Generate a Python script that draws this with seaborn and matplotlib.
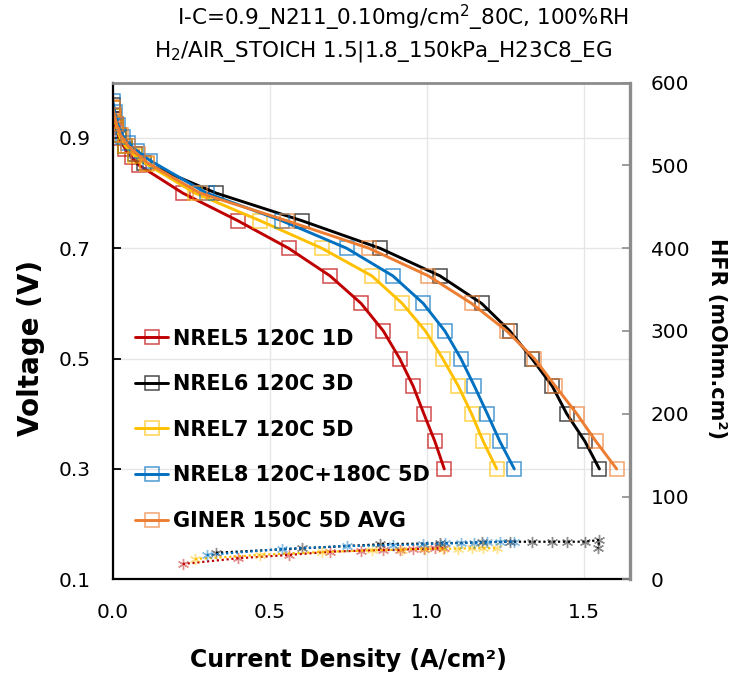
import numpy as np
import pandas as pd
import matplotlib
matplotlib.use("Agg")
import matplotlib.pyplot as plt
import seaborn as sns
from matplotlib.colors import to_rgba

sns.set_style("white")
plt.rcParams['font.family'] = ['DejaVu Sans']
plt.rcParams['text.color'] = 'black'
plt.rcParams['axes.labelcolor'] = 'black'
plt.rcParams['xtick.color'] = 'black'
plt.rcParams['ytick.color'] = 'black'
plt.rcParams['mathtext.default'] = 'regular'

# ---------------- data ----------------
series_names = ["NREL5 120C 1D", "NREL6 120C 3D", "NREL7 120C 5D",
                "NREL8 120C+180C 5D", "GINER 150C 5D AVG"]
series_colors = ["#C00000", "#000000", "#FFC000", "#0070C0", "#ED7D31"]

# polarization curves: current density (A/cm2) and cell voltage (V)
nrel5_i = [0.000, 0.005, 0.010, 0.020, 0.040, 0.060, 0.085, 0.223, 0.398, 0.560, 0.692, 0.791, 0.862, 0.914, 0.957, 0.991, 1.026, 1.056]
nrel5_v = [0.955, 0.935, 0.920, 0.900, 0.880, 0.865, 0.850, 0.800, 0.750, 0.700, 0.650, 0.600, 0.550, 0.500, 0.450, 0.400, 0.350, 0.300]
nrel6_i = [0.000, 0.005, 0.010, 0.020, 0.040, 0.070, 0.100, 0.329, 0.602, 0.851, 1.042, 1.175, 1.265, 1.335, 1.400, 1.446, 1.504, 1.550]
nrel6_v = [0.960, 0.940, 0.925, 0.905, 0.885, 0.870, 0.855, 0.800, 0.750, 0.700, 0.650, 0.600, 0.550, 0.500, 0.450, 0.400, 0.350, 0.300]
nrel7_i = [0.000, 0.005, 0.010, 0.020, 0.040, 0.070, 0.110, 0.262, 0.469, 0.666, 0.825, 0.922, 0.996, 1.051, 1.101, 1.143, 1.180, 1.223]
nrel7_v = [0.955, 0.940, 0.925, 0.905, 0.885, 0.868, 0.852, 0.800, 0.750, 0.700, 0.650, 0.600, 0.550, 0.500, 0.450, 0.400, 0.350, 0.300]
nrel8_i = [0.000, 0.007, 0.018, 0.034, 0.050, 0.076, 0.119, 0.299, 0.538, 0.745, 0.892, 0.989, 1.058, 1.109, 1.152, 1.193, 1.233, 1.279]
nrel8_v = [0.967, 0.947, 0.923, 0.902, 0.890, 0.877, 0.859, 0.800, 0.750, 0.700, 0.650, 0.600, 0.550, 0.500, 0.450, 0.400, 0.350, 0.300]
giner_i = [0.000, 0.005, 0.012, 0.025, 0.050, 0.080, 0.110, 0.278, 0.554, 0.816, 1.005, 1.143, 1.255, 1.343, 1.410, 1.478, 1.539, 1.605]
giner_v = [0.956, 0.941, 0.925, 0.905, 0.885, 0.870, 0.855, 0.800, 0.750, 0.700, 0.650, 0.600, 0.550, 0.500, 0.450, 0.400, 0.350, 0.300]

# high frequency resistance (mOhm.cm2) vs current density
nrel5_hfr_i = [0.223, 0.398, 0.560, 0.692, 0.791, 0.862, 0.914, 0.957, 0.991, 1.026, 1.056]
nrel5_hfr = [18.5, 25.4, 29.4, 33.3, 34.6, 35.4, 35.4, 36.6, 36.6, 37.4, 37.4]
nrel6_hfr_i = [0.329, 0.602, 0.851, 1.042, 1.175, 1.265, 1.335, 1.400, 1.446, 1.504, 1.550, 1.545]
nrel6_hfr = [32.1, 37.4, 42.3, 43.5, 44.7, 45.4, 45.4, 45.4, 45.4, 45.4, 47.5, 37.4]
nrel7_hfr_i = [0.262, 0.469, 0.666, 0.825, 0.922, 0.996, 1.051, 1.101, 1.143, 1.180, 1.223]
nrel7_hfr = [24.5, 29.5, 33.0, 35.0, 36.0, 36.5, 37.0, 37.0, 37.5, 37.5, 37.5]
nrel8_hfr_i = [0.299, 0.538, 0.745, 0.892, 0.989, 1.058, 1.109, 1.152, 1.193, 1.233, 1.279]
nrel8_hfr = [29.4, 36.6, 40.2, 41.4, 42.3, 43.5, 43.5, 44.2, 44.7, 45.4, 45.4]

title_line1 = "I-C=0.9_N211_0.10mg/cm$^2$_80C, 100%RH"
title_line2 = "H$_2$/AIR_STOICH 1.5|1.8_150kPa_H23C8_EG"
x_ticks = [0.0, 0.5, 1.0, 1.5]
y_ticks = [0.1, 0.3, 0.5, 0.7, 0.9]
y2_ticks = [0, 100, 200, 300, 400, 500, 600]

pol_i = [nrel5_i, nrel6_i, nrel7_i, nrel8_i, giner_i]
pol_v = [nrel5_v, nrel6_v, nrel7_v, nrel8_v, giner_v]
hfr_i = [nrel5_hfr_i, nrel6_hfr_i, nrel7_hfr_i, nrel8_hfr_i]
hfr_v = [nrel5_hfr, nrel6_hfr, nrel7_hfr, nrel8_hfr]

# ---------------- figure ----------------
W, H = 733, 676
fig = plt.figure(figsize=(W / 100, H / 100), dpi=100)
L, R, T, B = 112.7, 630.0, 82.7, 579.3
ax = fig.add_axes([L / W, 1 - B / H, (R - L) / W, (B - T) / H])
ax.set_facecolor("white")

for name, col, xi, yv in zip(series_names, series_colors, pol_i, pol_v):
    df = pd.DataFrame({"i": xi, "v": yv})
    sns.lineplot(data=df, x="i", y="v", ax=ax, sort=False, estimator=None,
                 color=col, linewidth=2.1, marker="s", markersize=9.5,
                 markerfacecolor="none", markeredgecolor=to_rgba(col, 0.7),
                 markeredgewidth=1.1, label=name)

ax.set_xlim(0, 1.6475)
ax.set_ylim(0.1, 1.0)
ax.set_xticks(x_ticks)
ax.set_xticklabels([f"{t:.1f}" for t in x_ticks])
ax.set_yticks(y_ticks)
ax.set_yticklabels([f"{t:.1f}" for t in y_ticks])
ax.grid(True, color="#E6E6E6", linewidth=1.0)
ax.set_xlabel("")
ax.set_ylabel("")
ax.tick_params(axis="both", direction="in", length=6, width=1.3,
               colors="black", labelsize=14.5)
ax.tick_params(axis="y", pad=16)
ax.tick_params(axis="x", pad=17)
for s in ["left", "bottom"]:
    ax.spines[s].set_color("black")
    ax.spines[s].set_linewidth(1.6)
ax.spines["top"].set_color("#8C8C8C")
ax.spines["top"].set_linewidth(2.0)
ax.spines["right"].set_visible(False)

ax2 = ax.twinx()
for col, xi, hv in zip(series_colors[:4], hfr_i, hfr_v):
    df = pd.DataFrame({"i": xi, "h": hv})
    sns.lineplot(data=df, x="i", y="h", ax=ax2, sort=False, estimator=None,
                 color=col, linewidth=1.6, linestyle=(0, (1, 1.2)),
                 marker=(6, 2, 0), markersize=8,
                 markeredgecolor=to_rgba(col, 0.45), markeredgewidth=1.0,
                 legend=False)
ax2.set_ylim(0, 600)
ax2.set_yticks(y2_ticks)
ax2.set_ylabel("")
ax2.tick_params(axis="y", direction="in", length=6, width=1.2,
                color="#8C8C8C", labelcolor="black", labelsize=14.5, pad=15)
ax2.spines["right"].set_color("#8C8C8C")
ax2.spines["right"].set_linewidth(2.4)
for s in ["left", "bottom", "top"]:
    ax2.spines[s].set_visible(False)

leg = ax.legend(loc="upper left", bbox_to_anchor=(0.043, 0.505),
                frameon=False, borderpad=0, borderaxespad=0,
                handlelength=1.6, handletextpad=0.25, labelspacing=1.23,
                prop={"weight": "bold", "size": 15})
for t in leg.get_texts():
    t.set_color("black")

fig.text(403 / W, 1 - 18 / H, title_line1, ha="center", va="center", fontsize=15.5)
fig.text(383 / W, 1 - 52 / H, title_line2, ha="center", va="center", fontsize=15.5)
fig.text(31 / W, 1 - 348 / H, "Voltage (V)", rotation=90, ha="center",
         va="center", fontsize=20, fontweight="bold")
fig.text(348 / W, 1 - 660 / H, "Current Density (A/cm²)", ha="center",
         va="center", fontsize=17, fontweight="bold")
fig.text(717 / W, 1 - 338 / H, "HFR (mOhm.cm²)", rotation=270, ha="center",
         va="center", fontsize=15, fontweight="bold")

fig.savefig("out.png", dpi=100, facecolor="white")
